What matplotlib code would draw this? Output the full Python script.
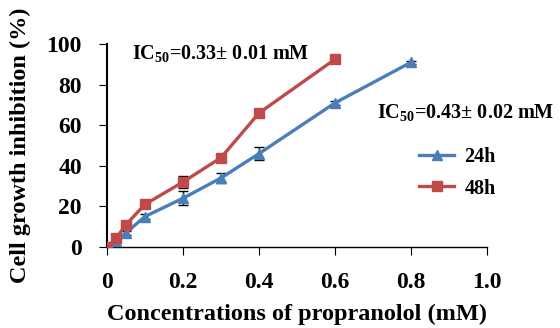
import matplotlib.pyplot as plt
from matplotlib.lines import Line2D

plt.rcParams['font.family'] = ['Liberation Serif', 'DejaVu Serif']
plt.rcParams['font.weight'] = 'bold'
plt.rcParams['mathtext.fontset'] = 'custom'
plt.rcParams['mathtext.rm'] = 'Liberation Serif'
plt.rcParams['mathtext.bf'] = 'Liberation Serif:bold'

# data
conc_24 = [0, 0.025, 0.05, 0.1, 0.2, 0.3, 0.4, 0.6, 0.8]
inhib_24 = [0, 3, 7, 15, 24, 34, 46, 71, 91]
err_24 = [0.5, 3, 1, 1, 3.5, 2.5, 3, 1, 0.8]

conc_48 = [0, 0.025, 0.05, 0.1, 0.2, 0.3, 0.4, 0.6]
inhib_48 = [0, 4.5, 11, 21, 32, 44, 66, 92.5]
err_48 = [0.5, 1, 1, 1.5, 3, 1.5, 1, 1]

blue = '#4a7ebb'
red = '#be4b48'

fig = plt.figure(figsize=(5.6, 3.28), dpi=100)
ax = fig.add_axes([0.191, 0.247, 0.679, 0.619])

ax.errorbar(conc_24, inhib_24, yerr=err_24, color=blue, lw=2.4, marker='^',
            markersize=7, ecolor='black', elinewidth=1, capsize=3.5, zorder=3)
ax.errorbar(conc_48, inhib_48, yerr=err_48, color=red, lw=2.4, marker='s',
            markersize=7, ecolor='black', elinewidth=1, capsize=3.5, zorder=4)

ax.set_xlim(0, 1.0)
ax.set_ylim(0, 100)
ax.set_xticks([0, 0.2, 0.4, 0.6, 0.8, 1.0])
ax.set_xticklabels(['0', '0.2', '0.4', '0.6', '0.8', '1.0'])
ax.set_yticks(range(0, 101, 20))
ax.spines['top'].set_visible(False)
ax.spines['right'].set_visible(False)
ax.spines['left'].set_linewidth(1.5)
ax.spines['bottom'].set_linewidth(1)
ax.tick_params(axis='both', labelsize=17, direction='out')
ax.tick_params(axis='x', pad=12, length=6)
ax.tick_params(axis='y', pad=12, length=6)

ax.set_xlabel('Concentrations of propranolol (mM)', fontsize=17.5,
              fontweight='bold', labelpad=8)
ax.set_ylabel('Cell growth inhibition (%)', fontsize=17.5, fontweight='bold',
              labelpad=11)

ax.text(0.066, 95, r'IC$_{\mathrm{50}}$=0.33± 0.01 mM', fontsize=14.5,
        fontweight='bold', va='center')
ax.text(0.71, 66, r'IC$_{\mathrm{50}}$=0.43± 0.02 mM', fontsize=14.5,
        fontweight='bold', va='center', clip_on=False)

handles = [Line2D([], [], color=blue, lw=2.4, marker='^', markersize=7),
           Line2D([], [], color=red, lw=2.4, marker='s', markersize=7)]
ax.legend(handles, ['24h', '48h'], loc='upper left',
          bbox_to_anchor=(0.80, 0.53), frameon=False, fontsize=14.5,
          handlelength=1.75, handletextpad=0.5, borderaxespad=0,
          labelspacing=0.55)

fig.savefig('out.png', dpi=100)
